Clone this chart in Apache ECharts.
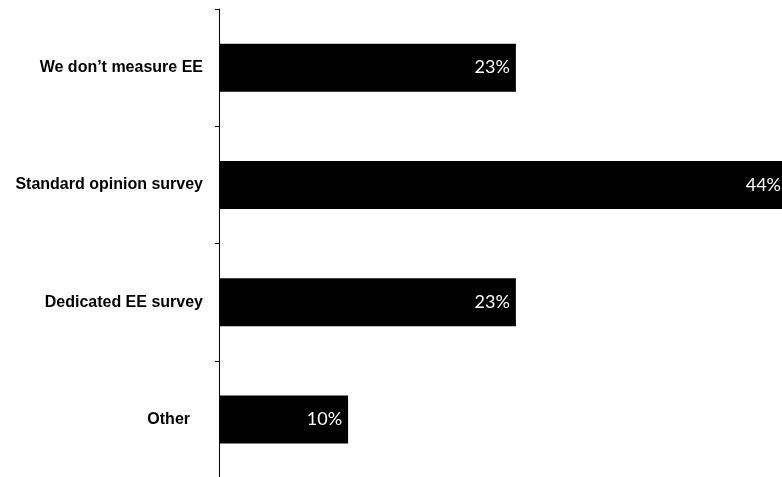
<!DOCTYPE html>
<html>
<head>
<meta charset="utf-8">
<script src="https://cdn.jsdelivr.net/npm/echarts@6/dist/echarts.min.js"></script>
<style>
  html, body { margin: 0; padding: 0; background: #fff; }
  #chart { width: 782px; height: 477px; }
</style>
</head>
<body>
<div id="chart"></div>
<script>
// How employee engagement is measured (share of respondents)
const categories = ['We don\u2019t measure EE', 'Standard opinion survey', 'Dedicated EE survey', 'Other'];
const shares = [23, 44, 23, 10];

const chart = echarts.init(document.getElementById('chart'));

chart.setOption({
  animation: false,
  grid: { left: 219, right: -5, top: 9, bottom: -1, containLabel: false, outerBoundsMode: 'none' },
  xAxis: {
    type: 'value',
    min: 0,
    max: 44,
    show: false
  },
  yAxis: {
    type: 'category',
    inverse: true,
    data: categories.map((c, i) => i === categories.length - 1
      ? { value: c, textStyle: { padding: [0, 13, 0, 0] } }
      : c),
    axisLine: { show: true, lineStyle: { color: '#000', width: 1 } },
    axisTick: { show: true, length: 4, lineStyle: { color: '#000' } },
    axisLabel: {
      margin: 16,
      color: '#000',
      fontFamily: '"Liberation Sans", Arial, sans-serif',
      fontWeight: 'bold',
      fontSize: 16
    }
  },
  series: [{
    type: 'bar',
    data: shares,
    barWidth: 48,
    itemStyle: { color: '#000' },
    label: {
      show: true,
      position: 'insideRight',
      distance: 6,
      color: '#fff',
      fontFamily: 'Lato',
      fontSize: 18,
      formatter: p => p.value + '%'
    }
  }]
});
</script>
</body>
</html>
